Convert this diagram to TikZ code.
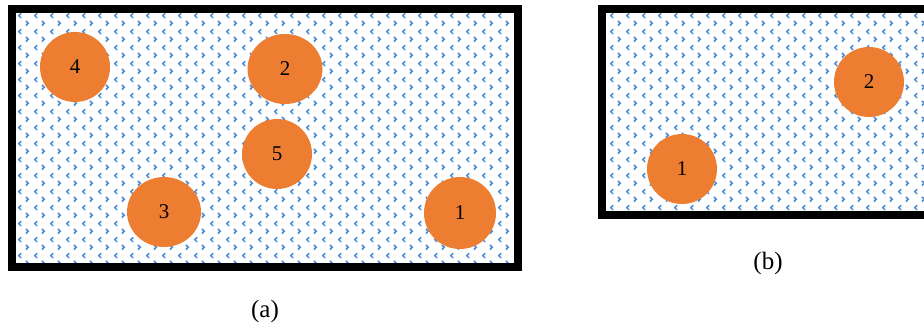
\documentclass[tikz,border=0pt]{standalone}
\usepackage{fontspec}
\setmainfont{Liberation Serif}
\usetikzlibrary{patterns,shapes.geometric}

\definecolor{discorange}{HTML}{ED7D31}
\definecolor{dotblue}{HTML}{4A8ED6}

% small blue chevrons, one row of < and one of >
\pgfdeclarepatternformonly{chevrons}{\pgfpointorigin}{\pgfqpoint{16pt}{16pt}}{\pgfqpoint{16pt}{16pt}}{
    \pgfsetlinewidth{1.6pt}
    \pgfpathmoveto{\pgfqpoint{5.5pt}{14.5pt}}\pgfpathlineto{\pgfqpoint{3pt}{12pt}}\pgfpathlineto{\pgfqpoint{5.5pt}{9.5pt}}
    \pgfpathmoveto{\pgfqpoint{10.5pt}{6.5pt}}\pgfpathlineto{\pgfqpoint{13pt}{4pt}}\pgfpathlineto{\pgfqpoint{10.5pt}{1.5pt}}
    \pgfusepath{stroke}
}

\tikzset{
    cell/.style={draw=black, line width=8pt, pattern=chevrons, pattern color=dotblue},
    disc/.style={ellipse, fill=discorange, minimum width=70pt, minimum height=70pt,
        inner sep=0pt, font=\fontsize{21}{25}\selectfont},
    caption/.style={font=\fontsize{25}{30}\selectfont}
}

\begin{document}
\begin{tikzpicture}[x=1pt,y=-1pt]
        \useasboundingbox (0,0) rectangle (924,330);
        \clip (0,0) rectangle (924,330);

            % (a)
            \draw[cell] (12,9) rectangle (518,267);
            \node[disc] (a4) at (75,67) {4};
            \node[disc, minimum width=75pt] (a2) at (285,69) {2};
            \node[disc] (a5) at (277,154) {5};
            \node[disc, minimum width=74pt] (a3) at (164,212) {3};
            \node[disc, minimum width=72pt, minimum height=72pt] (a1) at (460,213) {1};
            \node[caption] (capa) at (265,311) {(a)};

            % (b)
            \draw[cell] (602,9) rectangle (960,215);
            \node[disc] (b1) at (682,169) {1};
            \node[disc] (b2) at (869,82) {2};
            \node[caption] (capb) at (768,263) {(b)};

        \end{tikzpicture}
\end{document}
